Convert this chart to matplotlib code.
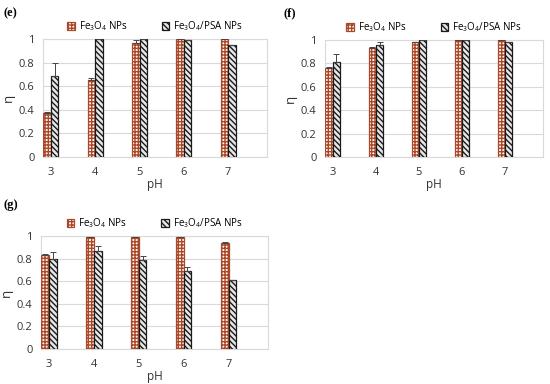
import matplotlib
matplotlib.use("Agg")
import matplotlib.pyplot as plt
import numpy as np

plt.rcParams["font.family"] = ["Open Sans", "DejaVu Sans"]
plt.rcParams["mathtext.fontset"] = "custom"
plt.rcParams["mathtext.rm"] = "Open Sans"
plt.rcParams["mathtext.it"] = "Open Sans:italic"
plt.rcParams["hatch.linewidth"] = 1.0

PH = ["3", "4", "5", "6", "7"]
SERIES_LABELS = ["Fe$_3$O$_4$ NPs", "Fe$_3$O$_4$/PSA NPs"]

# panel (e)
E_FE = [0.37, 0.65, 0.97, 1.00, 1.00]
E_FE_ERR = [0.01, 0.02, 0.02, 0.0, 0.0]
E_PSA = [0.69, 1.00, 1.00, 0.99, 0.95]
E_PSA_ERR = [0.11, 0.0, 0.0, 0.0, 0.0]

# panel (f)
F_FE = [0.76, 0.93, 0.98, 1.00, 1.00]
F_FE_ERR = [0.01, 0.01, 0.0, 0.0, 0.0]
F_PSA = [0.81, 0.96, 1.00, 1.00, 0.98]
F_PSA_ERR = [0.07, 0.02, 0.0, 0.0, 0.0]

# panel (g)
G_FE = [0.83, 0.99, 0.99, 0.99, 0.94]
G_FE_ERR = [0.01, 0.0, 0.0, 0.0, 0.01]
G_PSA = [0.80, 0.87, 0.79, 0.69, 0.61]
G_PSA_ERR = [0.06, 0.04, 0.03, 0.04, 0.0]

W, H = 550, 384
FE_EDGE = "#A9482A"
PSA_EDGE = "#1A1A1A"


def px_axes(fig, left, top, right, bottom):
    return fig.add_axes([left / W, 1 - bottom / H, (right - left) / W, (bottom - top) / H])


def draw_panel(ax, fe, fe_err, psa, psa_err):
    x = np.arange(len(PH))
    bw = 0.17
    ax.bar(x - bw / 2, fe, width=bw, color="#FFF6EE", edgecolor=FE_EDGE, hatch="+++++",
           linewidth=0.9, label=SERIES_LABELS[0], zorder=3)
    ax.bar(x + bw / 2, psa, width=bw, color="#E8E8E8", edgecolor=PSA_EDGE, hatch="\\\\\\\\\\\\",
           linewidth=0.9, label=SERIES_LABELS[1], zorder=3)
    ax.errorbar(x - bw / 2, fe, yerr=[np.zeros(len(fe)), fe_err], fmt="none",
                ecolor="#444444", elinewidth=0.7, capsize=2, capthick=0.7, zorder=4)
    ax.errorbar(x + bw / 2, psa, yerr=[np.zeros(len(psa)), psa_err], fmt="none",
                ecolor="#444444", elinewidth=0.7, capsize=2, capthick=0.7, zorder=4)
    ax.set_xlim(-0.18, 4.88)
    ax.set_ylim(0, 1)
    ax.set_xticks(x)
    ax.set_xticklabels(PH)
    ax.set_yticks([0, 0.2, 0.4, 0.6, 0.8, 1.0])
    ax.set_yticklabels(["0", "0.2", "0.4", "0.6", "0.8", "1"])
    ax.grid(axis="y", color="#D9D9D9", linewidth=0.8, zorder=0)
    for s in ax.spines.values():
        s.set_color("#D9D9D9")
        s.set_linewidth(0.8)
    ax.tick_params(axis="y", length=0, labelsize=8, colors="#333333", pad=6)
    ax.tick_params(axis="x", length=0, labelsize=8, colors="#333333", pad=7)
    ax.set_xlabel("pH", fontsize=8.5, color="#333333", labelpad=0)
    ax.set_ylabel("η", fontsize=9.5, color="#333333", labelpad=3)
    ax.legend(loc="lower center", bbox_to_anchor=(0.5, 1.0), ncol=2, frameon=False,
              fontsize=7, handlelength=0.8, handleheight=0.8, handletextpad=0.4,
              columnspacing=3.5, borderaxespad=0.2)


fig = plt.figure(figsize=(W / 100, H / 100), dpi=100)

ax_e = px_axes(fig, 43, 39, 267, 157)
draw_panel(ax_e, E_FE, E_FE_ERR, E_PSA, E_PSA_ERR)
ax_f = px_axes(fig, 325, 40, 543, 157)
draw_panel(ax_f, F_FE, F_FE_ERR, F_PSA, F_PSA_ERR)
ax_g = px_axes(fig, 41, 236, 268, 349)
draw_panel(ax_g, G_FE, G_FE_ERR, G_PSA, G_PSA_ERR)

for label, xp, yp in [("(e)", 3, 13), ("(f)", 284, 13), ("(g)", 3, 205)]:
    fig.text(xp / W, 1 - yp / H, label, fontsize=9, fontweight="bold",
             family=["Liberation Serif", "DejaVu Serif"], va="center", ha="left")

fig.savefig("out.png", dpi=100)
